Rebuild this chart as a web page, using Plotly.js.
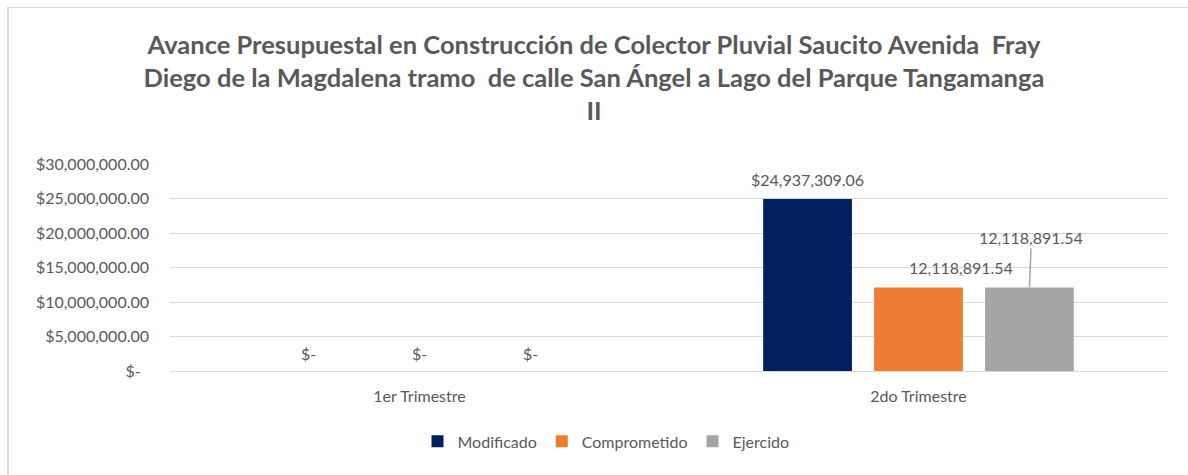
<!DOCTYPE html>
<html><head><meta charset="utf-8">
<script src="https://cdn.plot.ly/plotly-3.0.1.min.js"></script>
<style>
html,body{margin:0;padding:0;background:#fff;overflow:hidden}
#chart{width:1188px;height:475px}
#frame{position:absolute;left:7px;top:7px;width:1300px;height:600px;border-left:2px solid #d9d9d9;border-top:1px solid #d9d9d9;pointer-events:none}
</style>
</head><body>
<div id="chart"></div><div id="frame"></div>
<script>
const categories = ['1er Trimestre', '2do Trimestre'];
const seriesNames = ['Modificado', 'Comprometido', 'Ejercido'];
const modificado = [0, 24937309.06];
const comprometido = [0, 12118891.54];
const ejercido = [0, 12118891.54];
const labelPrefixes = ['$', '', ''];
const yTickValues = [0, 5000000, 10000000, 15000000, 20000000, 25000000, 30000000];
const yTickLabels = ['$-\u00a0\u00a0', '$5,000,000.00', '$10,000,000.00', '$15,000,000.00', '$20,000,000.00', '$25,000,000.00', '$30,000,000.00'];
const titleText = 'Avance Presupuestal en Construcción de Colector Pluvial Saucito Avenida  Fray<br>Diego de la Magdalena tramo  de calle San Ángel a Lago del Parque Tangamanga<br>II';

const colors = ['#002060', '#ED7D31', '#A5A5A5'];
const FONT = 'Lato, "Open Sans", sans-serif';
const TXT = '#595959';
const bargap = 0.333, bargroupgap = 0.2;
const seriesValues = [modificado, comprometido, ejercido];

const traces = seriesValues.map((vals, i) => ({
  type: 'bar', name: seriesNames[i], x: categories, y: vals,
  marker: {color: colors[i]}, hoverinfo: 'skip'
}));

function fmt(v, prefix) {
  if (v === 0) return '$-';
  return prefix + v.toLocaleString('en-US', {minimumFractionDigits: 2, maximumFractionDigits: 2});
}

// label placement styles (pixels) for non-zero labels, per series
const labelStyle = [
  {xshift: 0, yshift: 19, arrow: false},
  {xshift: 42, yshift: 20, arrow: false},
  {xshift: 2, yshift: 50, arrow: true}
];
const slot = (1 - bargap) / seriesValues.length;
const annotations = [];
seriesValues.forEach((vals, i) => {
  vals.forEach((v, j) => {
    const x = j + (i - (seriesValues.length - 1) / 2) * slot;
    const base = {x: x, y: v, xref: 'x', yref: 'y', text: fmt(v, labelPrefixes[i]),
      font: {family: FONT, size: 16, color: TXT}, yanchor: 'middle', xanchor: 'center'};
    if (v === 0) {
      annotations.push(Object.assign(base, {showarrow: false, yshift: 18}));
    } else if (labelStyle[i].arrow) {
      annotations.push(Object.assign(base, {showarrow: true, arrowhead: 0, arrowwidth: 1.5,
        arrowcolor: '#A5A5A5', ax: labelStyle[i].xshift, ay: -labelStyle[i].yshift, standoff: 0}));
    } else {
      annotations.push(Object.assign(base, {showarrow: false, xshift: labelStyle[i].xshift, yshift: labelStyle[i].yshift}));
    }
  });
});

const layout = {
  width: 1188, height: 475,
  paper_bgcolor: '#fff', plot_bgcolor: '#fff',
  margin: {l: 170, r: 20, t: 164, b: 104, pad: 0},
  font: {family: FONT, color: TXT, size: 16},
  title: {text: titleText, font: {family: FONT, size: 25.5, color: TXT, weight: 'bold'},
    x: 0.5, xref: 'container', xanchor: 'center', y: 1 - 54 / 475, yref: 'container', yanchor: 'top'},
  barmode: 'group', bargap: bargap, bargroupgap: bargroupgap,
  showlegend: true,
  legend: {orientation: 'h', x: 0.248, xanchor: 'left', y: -0.34, yanchor: 'middle',
    font: {family: FONT, size: 16, color: TXT}, itemclick: false},
  xaxis: {type: 'category', showgrid: false, showline: false, ticks: '', ticklabelstandoff: 14,
    tickfont: {family: FONT, size: 16, color: TXT}},
  yaxis: {range: [0, 30000000], tickvals: yTickValues, ticktext: yTickLabels,
    showgrid: true, gridcolor: '#D9D9D9', gridwidth: 1, zeroline: true, zerolinecolor: '#D9D9D9', zerolinewidth: 1,
    showline: false, ticks: '', ticklabelstandoff: 20, tickfont: {family: FONT, size: 16, color: TXT}},
  annotations: annotations,
  hovermode: false
};

Plotly.newPlot('chart', traces, layout, {displayModeBar: false, staticPlot: true});
</script>
</body></html>
